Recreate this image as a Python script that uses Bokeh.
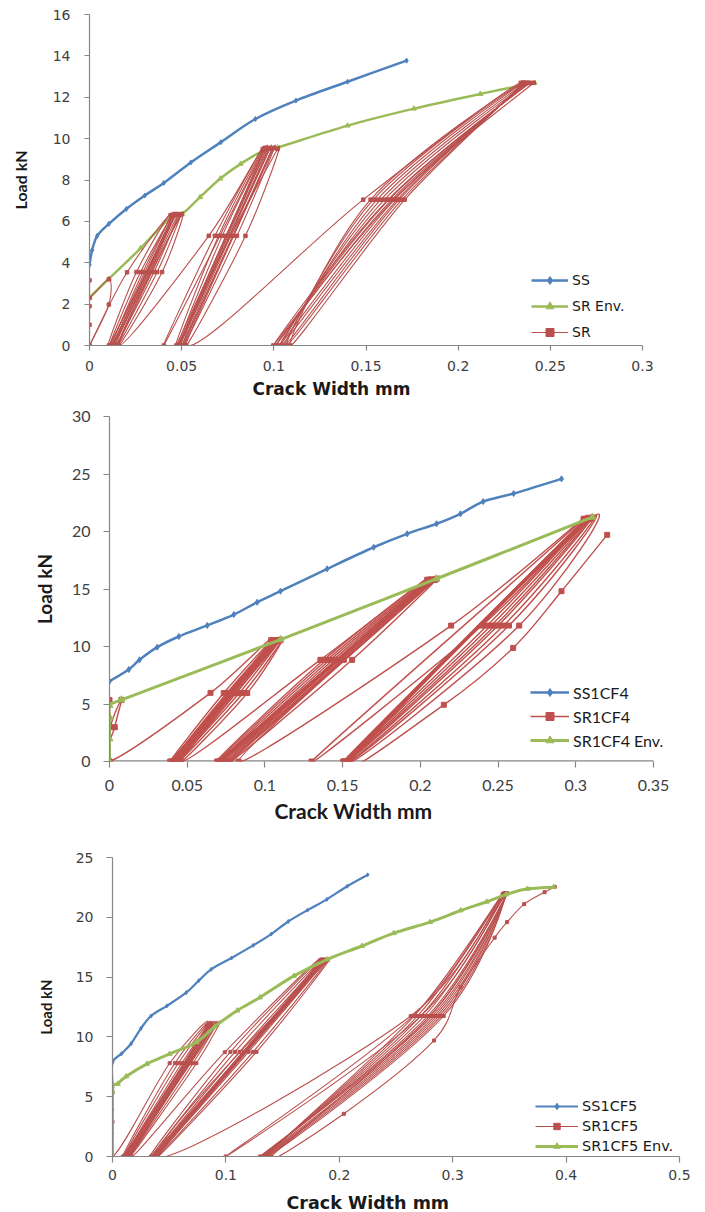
from bokeh.plotting import figure
from bokeh.models import Range1d, FixedTicker, CustomJSTickFormatter, Legend, LegendItem, Title
from bokeh.embed import file_html
from bokeh.resources import INLINE

BLUE = "#4F81BD"
GREEN = "#9BBB59"
RED = "#C0504D"
RED_DARK = "#B9504E"
AXIS_GREY = "#868686"

# ---------------- Chart 1 data ----------------
C1_X_TICKS = [0, 0.05, 0.1, 0.15, 0.2, 0.25, 0.3]
C1_X_LABELS = ["0", "0.05", "0.1", "0.15", "0.2", "0.25", "0.3"]
C1_Y_TICKS = [0, 2, 4, 6, 8, 10, 12, 14, 16]
C1_Y_LABELS = ["0", "2", "4", "6", "8", "10", "12", "14", "16"]

SS_X = [0, 0.0014, 0.0042, 0.0105, 0.02, 0.03, 0.0403, 0.055, 0.0713, 0.09, 0.112, 0.14, 0.172]
SS_Y = [3.9, 4.6, 5.3, 5.88, 6.6, 7.25, 7.86, 8.85, 9.83, 10.95, 11.84, 12.75, 13.77]

SR_ENV_X = [0, 0.0105, 0.0277, 0.0449, 0.0503, 0.06, 0.071, 0.082, 0.0945, 0.102, 0.14, 0.176, 0.212, 0.2415]
SR_ENV_Y = [2.33, 3.22, 4.7, 6.28, 6.36, 7.17, 8.07, 8.78, 9.42, 9.57, 10.63, 11.45, 12.16, 12.7]

SR_INIT_X = [0, 0, 0, 0, 0, 0.0105, 0.0105, 0]
SR_INIT_Y = [0, 1.0, 1.9, 3.15, 2.3, 3.2, 1.98, 0]
SR_G1_X = [0.0204, 0.045, 0.0105, 0.0255, 0.044, 0.011, 0.0277, 0.046, 0.012, 0.029, 0.045, 0.0125, 0.031,
           0.047, 0.013, 0.0327, 0.046, 0.014, 0.035, 0.048, 0.015, 0.0367, 0.049, 0.0155, 0.0394, 0.05]
SR_G1_Y = [3.54, 6.3, 0, 3.55, 6.3, 0, 3.55, 6.35, 0, 3.55, 6.3, 0, 3.55,
           6.35, 0, 3.55, 6.3, 0, 3.55, 6.35, 0, 3.55, 6.3, 0, 3.55, 6.35]
SR_G2_X = [0.016, 0.0647, 0.094, 0.0403, 0.068, 0.0945, 0.047, 0.070, 0.095, 0.048, 0.072, 0.096, 0.0485, 0.074,
           0.097, 0.049, 0.076, 0.098, 0.05, 0.078, 0.099, 0.051, 0.080, 0.1, 0.052, 0.0846, 0.102]
SR_G2_Y = [0, 5.3, 9.5, 0, 5.3, 9.5, 0, 5.3, 9.5, 0, 5.3, 9.55, 0, 5.3,
           9.5, 0, 5.3, 9.55, 0, 5.3, 9.5, 0, 5.3, 9.55, 0, 5.3, 9.5]
SR_G3_X = [0.0525, 0.1485, 0.234, 0.171, 0.109, 0.1525, 0.235, 0.1695, 0.107, 0.154, 0.2355, 0.168, 0.106, 0.156,
           0.236, 0.167, 0.104, 0.158, 0.237, 0.1655, 0.103, 0.16, 0.238, 0.164, 0.101, 0.1625, 0.239, 0.162,
           0.0997, 0.165, 0.241]
SR_G3_Y = [0, 7.05, 12.7, 7.05, 0, 7.05, 12.7, 7.05, 0, 7.05, 12.7, 7.05, 0, 7.05,
           12.7, 7.05, 0, 7.05, 12.7, 7.05, 0, 7.05, 12.7, 7.05, 0, 7.05, 12.7, 7.05,
           0, 7.05, 12.7]

# ---------------- Chart 2 data ----------------
C2_X_TICKS = [0, 0.05, 0.1, 0.15, 0.2, 0.25, 0.3, 0.35]
C2_X_LABELS = ["0", "0.05", "0.1", "0.15", "0.2", "0.25", "0.3", "0.35"]
C2_Y_TICKS = [0, 5, 10, 15, 20, 25, 30]
C2_Y_LABELS = ["0", "5", "10", "15", "20", "25", "30"]

SS1CF4_X = [0, 0.0124, 0.0193, 0.0307, 0.0446, 0.0629, 0.08, 0.095, 0.11, 0.14, 0.17, 0.1915, 0.2104, 0.2258,
            0.2404, 0.26, 0.2908]
SS1CF4_Y = [6.98, 8.0, 8.84, 9.94, 10.87, 11.83, 12.78, 13.85, 14.81, 16.75, 18.63, 19.8, 20.67, 21.54,
            22.6, 23.3, 24.58]

SR1CF4_ENV_X = [0, 0, 0, 0, 0.0077, 0.11, 0.2104, 0.3106]
SR1CF4_ENV_Y = [0, 1.97, 3.85, 4.87, 5.36, 10.6, 15.89, 21.25]

SR1CF4_INIT_X = [0, 0, 0, 0.0006, 0.0077, 0.0034, 0]
SR1CF4_INIT_Y = [0, 5.35, 0, 2.98, 5.36, 2.98, 0]
SR1CF4_G1_X = [0.065, 0.104, 0.039, 0.0735, 0.105, 0.040, 0.0755, 0.106, 0.041, 0.0775, 0.1065, 0.042, 0.0795,
               0.107, 0.0425, 0.0815, 0.108, 0.043, 0.0835, 0.109, 0.044, 0.086, 0.11, 0.0457, 0.0886, 0.11]
SR1CF4_G1_Y = [5.97, 10.55, 0, 5.95, 10.55, 0, 5.95, 10.55, 0, 5.95, 10.55, 0, 5.95,
               10.55, 0, 5.95, 10.55, 0, 5.95, 10.55, 0, 5.95, 10.55, 0, 5.95, 10.6]
SR1CF4_G2_X = [0.046, 0.1357, 0.2044, 0.0693, 0.138, 0.205, 0.070, 0.140, 0.206, 0.071, 0.142, 0.2065, 0.072,
               0.144, 0.207, 0.073, 0.146, 0.208, 0.075, 0.148, 0.209, 0.0765, 0.1508, 0.2095, 0.0779, 0.1561,
               0.2104]
SR1CF4_G2_Y = [0, 8.84, 15.8, 0, 8.84, 15.8, 0, 8.84, 15.8, 0, 8.84, 15.8, 0,
               8.84, 15.8, 0, 8.84, 15.8, 0, 8.84, 15.8, 0, 8.84, 15.8, 0, 8.84,
               15.89]
SR1CF4_G3_X = [0.083, 0.2198, 0.305, 0.13, 0.2397, 0.306, 0.1503, 0.243, 0.3065, 0.151, 0.2455, 0.307, 0.1515,
               0.248, 0.3075, 0.152, 0.25, 0.308, 0.153, 0.2535, 0.309, 0.1535, 0.257, 0.3095, 0.154, 0.2636,
               0.3106, 0.155, 0.2151, 0.2597, 0.2908, 0.3202]
SR1CF4_G3_Y = [0, 11.82, 21.1, 0, 11.82, 21.1, 0, 11.82, 21.1, 0, 11.82, 21.1, 0,
               11.82, 21.1, 0, 11.82, 21.1, 0, 11.82, 21.1, 0, 11.82, 21.1, 0, 11.82,
               21.2, 0, 4.93, 9.88, 14.81, 19.71]

# ---------------- Chart 3 data ----------------
C3_X_TICKS = [0, 0.1, 0.2, 0.3, 0.4, 0.5]
C3_X_LABELS = ["0", "0.1", "0.2", "0.3", "0.4", "0.5"]
C3_Y_TICKS = [0, 5, 10, 15, 20, 25]
C3_Y_LABELS = ["0", "5", "10", "15", "20", "25"]

SS1CF5_X = [0, 0, 0, 0, 0, 0.008, 0.0165, 0.025, 0.034, 0.048, 0.065, 0.076, 0.087, 0.105, 0.124, 0.14, 0.155,
            0.172, 0.189, 0.207, 0.225]
SS1CF5_Y = [0, 1.95, 3.9, 5.85, 7.85, 8.6, 9.45, 10.7, 11.75, 12.6, 13.7, 14.7, 15.65, 16.6, 17.65, 18.6, 19.65,
            20.6, 21.5, 22.6, 23.55]

SR1CF5_ENV_X = [0, 0, 0.0047, 0.012, 0.0304, 0.0504, 0.074, 0.0903, 0.11, 0.13, 0.16, 0.189, 0.22, 0.248, 0.28,
                0.307, 0.33, 0.347, 0.366, 0.389]
SR1CF5_ENV_Y = [0, 5.4, 6.08, 6.69, 7.75, 8.58, 9.56, 10.87, 12.2, 13.3, 15.1, 16.47, 17.6, 18.67, 19.6,
                20.57, 21.3, 21.9, 22.38, 22.52]

SR1CF5_INIT_X = [0, 0, 0, 0]
SR1CF5_INIT_Y = [0, 2.9, 5.4, 0]
SR1CF5_G1_X = [0.0504, 0.083, 0.0091, 0.055, 0.0845, 0.010, 0.058, 0.085, 0.011, 0.061, 0.086, 0.012, 0.063,
               0.087, 0.013, 0.066, 0.088, 0.014, 0.068, 0.089, 0.015, 0.071, 0.09, 0.0155, 0.074, 0.092]
SR1CF5_G1_Y = [7.8, 10.95, 0, 7.8, 10.95, 0, 7.8, 10.95, 0, 7.8, 10.95, 0, 7.8,
               10.95, 0, 7.8, 10.95, 0, 7.8, 10.95, 0, 7.8, 10.95, 0, 7.8, 11.0]
SR1CF5_G2_X = [0.0165, 0.099, 0.183, 0.034, 0.104, 0.184, 0.035, 0.108, 0.185, 0.036, 0.112, 0.186, 0.037, 0.116,
               0.187, 0.038, 0.12, 0.188, 0.039, 0.124, 0.189, 0.0395, 0.127, 0.19]
SR1CF5_G2_Y = [0, 8.72, 16.4, 0, 8.75, 16.4, 0, 8.75, 16.4, 0, 8.75, 16.4, 0, 8.75,
               16.4, 0, 8.75, 16.4, 0, 8.75, 16.4, 0, 8.75, 16.45]
SR1CF5_G3_X = [0.04, 0.263, 0.344, 0.272, 0.0997, 0.265, 0.345, 0.292, 0.136, 0.266, 0.346, 0.29, 0.135, 0.269,
               0.346, 0.288, 0.134, 0.272, 0.347, 0.286, 0.133, 0.275, 0.347, 0.284, 0.132, 0.278, 0.348, 0.282,
               0.13, 0.28, 0.348]
SR1CF5_G3_Y = [0, 11.75, 21.95, 11.75, 0, 11.75, 22.0, 11.75, 0, 11.75, 22.0, 11.75, 0, 11.75,
               22.0, 11.75, 0, 11.75, 22.0, 11.75, 0, 11.75, 22.0, 11.75, 0, 11.75, 22.0, 11.75,
               0, 11.75, 22.0]
SR1CF5_FINAL_X = [0.28, 0.14, 0.204, 0.2835, 0.307, 0.337, 0.348, 0.363, 0.381, 0.39]
SR1CF5_FINAL_Y = [11.75, 0, 3.57, 9.7, 14.15, 18.3, 19.6, 21.1, 22.1, 22.55]


def tick_fmt(tvals, tlabels):
    return CustomJSTickFormatter(args=dict(tvals=tvals, tlabels=tlabels), code="""
        for (let i = 0; i < tvals.length; i++) {
            if (Math.abs(tvals[i] - tick) < 1e-9) { return tlabels[i]; }
        }
        return '';
    """)


def make_fig(cfg):
    p = figure(frame_width=cfg["fw"], frame_height=cfg["fh"],
               min_border_left=cfg["bl"], min_border_right=cfg["br"],
               min_border_top=cfg["bt"], min_border_bottom=cfg["bb"],
               x_range=Range1d(*cfg["xr"]), y_range=Range1d(*cfg["yr"]),
               output_backend="svg", toolbar_location=None, tools="")
    p.grid.visible = False
    p.outline_line_color = None
    p.background_fill_color = "white"
    p.border_fill_color = "white"
    p.xaxis.ticker = FixedTicker(ticks=cfg["xt"])
    p.yaxis.ticker = FixedTicker(ticks=cfg["yt"])
    p.xaxis.formatter = tick_fmt(cfg["xt"], cfg["xl"])
    p.yaxis.formatter = tick_fmt(cfg["yt"], cfg["yl"])
    for ax in (p.xaxis, p.yaxis):
        ax.axis_line_color = AXIS_GREY
        ax.axis_line_width = 1.2
        ax.major_tick_line_color = AXIS_GREY
        ax.major_tick_line_width = 1.2
        ax.minor_tick_line_color = None
        ax.major_tick_in = 0
        ax.major_tick_out = cfg["tick_out"]
        ax.major_label_text_font = cfg["tick_font"]
        ax.major_label_text_font_size = cfg["tick_size"]
        ax.major_label_text_color = "#404040"
    p.xaxis.major_label_standoff = cfg["xstand"]
    p.yaxis.major_label_standoff = cfg["ystand"]
    # y-axis title
    p.yaxis.axis_label = "Load kN"
    p.yaxis.axis_label_text_font = "Lato"
    p.yaxis.axis_label_text_font_style = "bold"
    p.yaxis.axis_label_text_font_size = cfg["ytitle_size"]
    p.yaxis.axis_label_text_color = "#1a1a1a"
    p.yaxis.axis_label_standoff = cfg["ytitle_standoff"]
    # x-axis title (a below title, left aligned with an offset as in the original)
    p.add_layout(Title(text="Crack Width mm", align="left", offset=cfg["xtitle_offset"],
                       standoff=cfg["xtitle_standoff"], text_font=cfg["xtitle_font"],
                       text_font_size=cfg["xtitle_size"], text_font_style="bold",
                       text_color="#1a1a1a"), "below")
    return p


def smooth_segments(xs, ys):
    """Excel-style smoothed line: cubic Bezier control points from neighbouring data points."""
    n = len(xs)
    out = dict(x0=[], y0=[], x1=[], y1=[], cx0=[], cy0=[], cx1=[], cy1=[])
    for i in range(n - 1):
        xa, ya = (xs[i - 1], ys[i - 1]) if i > 0 else (xs[i], ys[i])
        xb, yb = (xs[i + 2], ys[i + 2]) if i + 2 < n else (xs[i + 1], ys[i + 1])
        out["x0"].append(xs[i]); out["y0"].append(ys[i])
        out["x1"].append(xs[i + 1]); out["y1"].append(ys[i + 1])
        out["cx0"].append(xs[i] + (xs[i + 1] - xa) / 6.0)
        out["cy0"].append(ys[i] + (ys[i + 1] - ya) / 6.0)
        out["cx1"].append(xs[i + 1] - (xb - xs[i]) / 6.0)
        out["cy1"].append(ys[i + 1] - (yb - ys[i]) / 6.0)
    return out


def series(p, xs, ys, color, width, marker, msize):
    seg = smooth_segments(xs, ys)
    r1 = p.bezier(x0=seg["x0"], y0=seg["y0"], x1=seg["x1"], y1=seg["y1"],
                  cx0=seg["cx0"], cy0=seg["cy0"], cx1=seg["cx1"], cy1=seg["cy1"],
                  line_color=color, line_width=width)
    r2 = p.scatter(xs, ys, marker=marker, size=msize, fill_color=color, line_color=color)
    return [r1, r2]


def add_legend(p, items, loc, gw, gh, spacing, font, size):
    lg = Legend(items=[LegendItem(label=l, renderers=r) for l, r in items], location=loc,
                glyph_width=gw, glyph_height=gh, label_height=gh, spacing=spacing, padding=0, margin=0,
                label_standoff=4, border_line_color=None, background_fill_alpha=0,
                label_text_font=font, label_text_font_size=size, label_text_color="#1a1a1a",
                label_text_baseline="middle")
    p.add_layout(lg)


# ---------------- Chart 1 ----------------
cfg1 = dict(fw=553, fh=331, bl=89, br=63, bt=14, bb=58, xr=(0, 0.3), yr=(0, 16),
            xt=C1_X_TICKS, xl=C1_X_LABELS, yt=C1_Y_TICKS, yl=C1_Y_LABELS,
            tick_out=5, tick_font="DejaVu Sans", tick_size="14px", xstand=10, ystand=14,
            xtitle_font="DejaVu Sans", xtitle_size="17px", xtitle_offset=163, xtitle_standoff=6,
            ytitle_size="16px", ytitle_standoff=20)
p1 = make_fig(cfg1)
sr1_x = SR_INIT_X + SR_G1_X + SR_G2_X + SR_G3_X
sr1_y = SR_INIT_Y + SR_G1_Y + SR_G2_Y + SR_G3_Y
r_ss = series(p1, SS_X, SS_Y, BLUE, 2.5, "diamond", 5)
r_env = series(p1, SR_ENV_X, SR_ENV_Y, GREEN, 2.5, "triangle", 5)
r_sr = series(p1, sr1_x, sr1_y, RED_DARK, 1.1, "square", 3.5)
add_legend(p1, [("SS", r_ss), ("SR Env.", r_env), ("SR", r_sr)], (442, 3), 37, 20, 6, "DejaVu Sans", "14px")

# ---------------- Chart 2 ----------------
# frame extends past 0.35 (same scale) so the legend can overhang the axis end like the original
cfg2 = dict(fw=581, fh=345, bl=109, br=15, bt=13, bb=79, xr=(0, 0.3738), yr=(0, 30),
            xt=C2_X_TICKS, xl=C2_X_LABELS, yt=C2_Y_TICKS, yl=C2_Y_LABELS,
            tick_out=6, tick_font="Lato", tick_size="16px", xstand=12, ystand=13,
            xtitle_font="Lato", xtitle_size="21px", xtitle_offset=165, xtitle_standoff=4,
            ytitle_size="19px", ytitle_standoff=13)
p2 = make_fig(cfg2)
p2.xaxis.axis_line_color = None
p2.line([C2_X_TICKS[0], C2_X_TICKS[-1]], [C2_Y_TICKS[0], C2_Y_TICKS[0]], line_color=AXIS_GREY, line_width=2.4)
sr2_x = SR1CF4_INIT_X + SR1CF4_G1_X + SR1CF4_G2_X + SR1CF4_G3_X
sr2_y = SR1CF4_INIT_Y + SR1CF4_G1_Y + SR1CF4_G2_Y + SR1CF4_G3_Y
r2_ss = series(p2, SS1CF4_X, SS1CF4_Y, BLUE, 2.5, "diamond", 6)
r2_sr = series(p2, sr2_x, sr2_y, RED, 1.4, "square", 5)
r2_env = series(p2, SR1CF4_ENV_X, SR1CF4_ENV_Y, GREEN, 3, "triangle", 7)
add_legend(p2, [("SS1CF4", r2_ss), ("SR1CF4", r2_sr), ("SR1CF4 Env.", r2_env)], (421, 11), 39, 20, 4,
           "Lato", "16px")

# ---------------- Chart 3 ----------------
cfg3 = dict(fw=567, fh=299, bl=112, br=26, bt=17, bb=56, xr=(0, 0.5), yr=(0, 25),
            xt=C3_X_TICKS, xl=C3_X_LABELS, yt=C3_Y_TICKS, yl=C3_Y_LABELS,
            tick_out=6, tick_font="DejaVu Sans", tick_size="14px", xstand=7, ystand=13,
            xtitle_font="DejaVu Sans", xtitle_size="17.5px", xtitle_offset=174, xtitle_standoff=16,
            ytitle_size="15px", ytitle_standoff=18)
p3 = make_fig(cfg3)
sr3_x = SR1CF5_INIT_X + SR1CF5_G1_X + SR1CF5_G2_X + SR1CF5_G3_X + SR1CF5_FINAL_X
sr3_y = SR1CF5_INIT_Y + SR1CF5_G1_Y + SR1CF5_G2_Y + SR1CF5_G3_Y + SR1CF5_FINAL_Y
r3_ss = series(p3, SS1CF5_X, SS1CF5_Y, BLUE, 2.2, "diamond", 4)
r3_sr = series(p3, sr3_x, sr3_y, RED_DARK, 1.1, "square", 3)
r3_env = series(p3, SR1CF5_ENV_X, SR1CF5_ENV_Y, GREEN, 3, "triangle", 5)
add_legend(p3, [("SS1CF5", r3_ss), ("SR1CF5", r3_sr), ("SR1CF5 Env.", r3_env)], (423, 2), 43, 16, 4,
           "DejaVu Sans", "14.5px")

open("out.html", "w").write(file_html([p1, p2, p3], INLINE))
